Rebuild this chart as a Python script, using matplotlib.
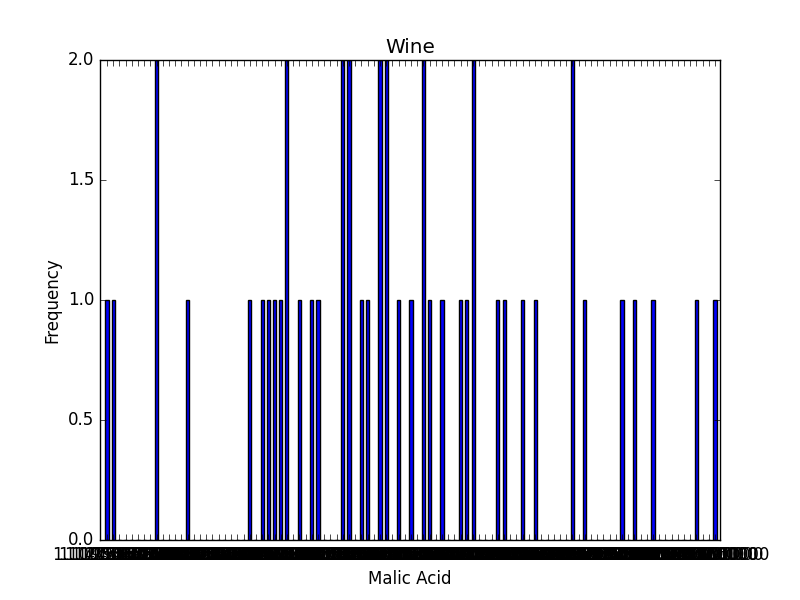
import matplotlib
matplotlib.use("Agg")
import matplotlib.pyplot as plt

plt.style.use("classic")

# bin index -> frequency (only non-empty bins listed)
bar_index = [0, 1, 8, 13, 23, 25, 26, 27, 28, 29, 31, 33, 34, 38, 39, 41, 42,
             44, 45, 47, 49, 51, 52, 54, 57, 58, 59, 63, 64, 67, 69, 75, 77,
             83, 85, 88, 95, 98]
bar_freq = [1, 1, 2, 1, 1, 1, 1, 1, 1, 2, 1, 1, 1, 2, 2, 1, 1,
            2, 2, 1, 1, 2, 1, 1, 1, 1, 2, 1, 1, 1, 1, 2, 1,
            1, 1, 1, 1, 1]

n_bins = 99
# tick labels (illegible, overlapping long float strings)
tick_labels = ["%.9f" % (1.1 + i * 0.04767) for i in range(n_bins)]

heights = [0] * n_bins
for i, f in zip(bar_index, bar_freq):
    heights[i] = f

fig = plt.figure(figsize=(8, 6), dpi=100)
ax = fig.add_subplot(111)
ax.bar(range(n_bins), heights, width=0.5, align="center", color="b",
       edgecolor="k")
ax.set_xticks(range(n_bins))
ax.set_xticklabels(tick_labels, rotation=0)
ax.set_xlim(-1.13, 98.8)
ax.set_ylim(0, 2)
ax.set_yticks([0.0, 0.5, 1.0, 1.5, 2.0])
ax.set_title("Wine")
ax.set_xlabel("Malic Acid")
ax.set_ylabel("Frequency")
fig.savefig("out.png", dpi=100)
